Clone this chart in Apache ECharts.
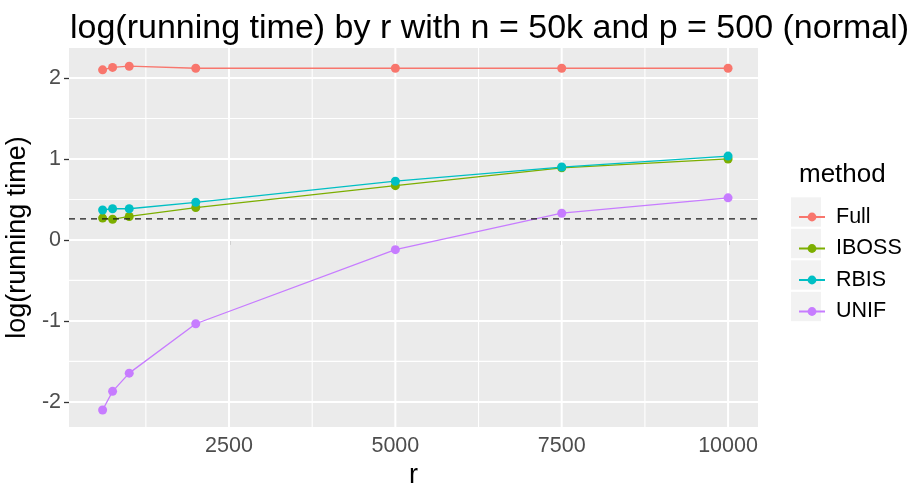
<!DOCTYPE html>
<html>
<head>
<meta charset="utf-8">
<script src="https://cdn.jsdelivr.net/npm/echarts@6/dist/echarts.min.js"></script>
<style>
html,body{margin:0;padding:0;background:#fff;}
#chart{width:915px;height:488px;}
</style>
</head>
<body>
<div id="chart"></div>
<script>
// ---- data ----
const rValues   = [600, 750, 1000, 2000, 5000, 7500, 10000];
const fullTime  = [2.10, 2.13, 2.145, 2.12, 2.12, 2.12, 2.12];
const ibossTime = [0.27, 0.255, 0.29, 0.40, 0.67, 0.89, 1.00];
const rbisTime  = [0.37, 0.385, 0.385, 0.465, 0.725, 0.90, 1.035];
const unifTime  = [-2.10, -1.87, -1.645, -1.035, -0.12, 0.33, 0.52];
const methods   = ['Full', 'IBOSS', 'RBIS', 'UNIF'];
const refLine   = 0.26;
const xTicks    = [2500, 5000, 7500, 10000];
const xMinor    = [1250, 3750, 6250, 8750];
const yTicks    = [-2, -1, 0, 1, 2];
const yMinor    = [-1.5, -0.5, 0.5, 1.5];
const xRange    = [95, 10450];
const yRange    = [-2.31, 2.37];

const colors = ['#F8766D', '#7CAE00', '#00BFC4', '#C77CFF'];
const FONT = 'Liberation Sans, Arial, sans-serif';
const allSeries = [fullTime, ibossTime, rbisTime, unifTime];

const chart = echarts.init(document.getElementById('chart'), null, {renderer: 'canvas'});

function gridSeries(points, width) {
  return {
    type: 'line', data: points, z: 1, silent: true, symbol: 'none',
    lineStyle: {color: '#FFFFFF', width: width}, animation: false,
    tooltip: {show: false}, legendHoverLink: false
  };
}
const series = [];
xMinor.forEach(v => series.push(gridSeries([[v, yRange[0]], [v, yRange[1]]], 1.1)));
yMinor.forEach(v => series.push(gridSeries([[xRange[0], v], [xRange[1], v]], 1.1)));
xTicks.forEach(v => series.push(gridSeries([[v, yRange[0]], [v, yRange[1]]], 2)));
yTicks.forEach(v => series.push(gridSeries([[xRange[0], v], [xRange[1], v]], 2)));

methods.forEach((m, i) => {
  series.push({
    name: m, type: 'line', z: 3,
    data: rValues.map((r, j) => [r, allSeries[i][j]]),
    symbol: 'circle', symbolSize: 9, showSymbol: true,
    lineStyle: {color: colors[i], width: 1.3},
    itemStyle: {color: colors[i]},
    animation: false
  });
});
series.push({
  type: 'line', z: 4, silent: true, symbol: 'none', animation: false,
  data: [[xRange[0], refLine], [xRange[1], refLine]],
  lineStyle: {color: '#1a1a1a', type: [6, 5], width: 1.3}
});

const legendGraphics = methods.map((m, i) => ({
  type: 'rect', silent: true,
  shape: {x: 791, y: 212 + i * 31.5 - 14.7, width: 30, height: 29.4},
  style: {fill: '#F2F2F2'}
}));

chart.setOption({
  backgroundColor: '#FFFFFF',
  animation: false,
  title: [{
    text: 'log(running time) by r with n = 50k and p = 500 (normal)',
    left: 65, top: 7,
    textStyle: {fontFamily: FONT, fontSize: 34, fontWeight: 'normal', color: '#000', lineHeight: 34}
  }, {
    text: 'method',
    left: 794, top: 157,
    textStyle: {fontFamily: FONT, fontSize: 26, fontWeight: 'normal', color: '#000', lineHeight: 26}
  }],
  graphic: legendGraphics,
  legend: {
    data: methods,
    orient: 'vertical',
    left: 793, top: 201,
    itemWidth: 26, itemHeight: 11, itemGap: 9.5,
    textStyle: {fontFamily: FONT, fontSize: 21.5, color: '#000', lineHeight: 22, padding: [0, 0, 0, 6]},
    selectedMode: false
  },
  grid: {
    left: 69, right: 157, top: 48, bottom: 61,
    show: true, backgroundColor: '#EBEBEB', borderWidth: 0,
    containLabel: false, outerBoundsMode: 'none'
  },
  xAxis: {
    type: 'value', min: xRange[0], max: xRange[1],
    name: 'r', nameLocation: 'middle', nameGap: 34,
    nameTextStyle: {fontFamily: FONT, fontSize: 27, color: '#000', lineHeight: 27},
    axisLine: {show: false},
    axisTick: {show: true, length: 5, lineStyle: {color: '#333333', width: 1.3}, customValues: xTicks},
    axisLabel: {fontFamily: FONT, fontSize: 21.5, color: '#4D4D4D', margin: 8, customValues: xTicks,
      formatter: v => String(v)},
    splitLine: {show: false}
  },
  yAxis: {
    type: 'value', min: yRange[0], max: yRange[1],
    name: 'log(running time)', nameLocation: 'middle', nameGap: 34,
    nameTextStyle: {fontFamily: FONT, fontSize: 27, color: '#000', lineHeight: 27},
    axisLine: {show: false},
    axisTick: {show: true, length: 5, lineStyle: {color: '#333333', width: 1.3}, customValues: yTicks},
    axisLabel: {fontFamily: FONT, fontSize: 21.5, color: '#4D4D4D', margin: 8, customValues: yTicks},
    splitLine: {show: false}
  },
  series: series
});
</script>
</body>
</html>
